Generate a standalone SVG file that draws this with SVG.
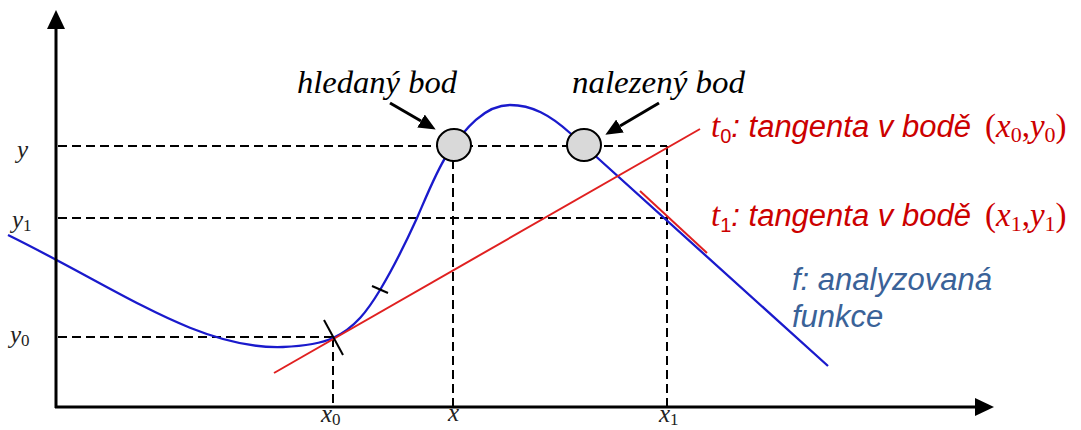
<svg xmlns="http://www.w3.org/2000/svg" width="1081" height="430" viewBox="0 0 1081 430">
<style>
.axis{stroke:#000;stroke-width:3;fill:none}
.dash{stroke:#000;stroke-width:2;stroke-dasharray:9 5;fill:none}
.curve{stroke:#1a1acc;stroke-width:2.3;fill:none}
.tan{stroke:#e02020;stroke-width:2;fill:none}
.tick{stroke:#000;stroke-width:2;fill:none}
.ptr{stroke:#000;stroke-width:3;fill:none}
.pt{fill:#d9d9d9;stroke:#000;stroke-width:2}
.ax{font-family:"Liberation Serif",serif;font-style:italic;font-size:25px;fill:#222}
.axs{font-style:normal;font-size:17px}
.note{font-family:"Liberation Serif",serif;font-style:italic;font-size:31px;fill:#000}
.red{font-family:"Liberation Sans",Arial,sans-serif;font-style:italic;font-size:31px;fill:#cc0000}
.m{font-family:"Liberation Serif",serif;font-style:normal;font-size:33px}
.mi{font-family:"Liberation Serif",serif;font-style:italic;font-size:33px}
.sub{font-size:20px;font-style:normal}
.msub{font-family:"Liberation Serif",serif;font-style:normal;font-size:22px}
.blue{font-family:"Liberation Sans",Arial,sans-serif;font-style:italic;font-size:31px;fill:#3a6298}
</style>
<defs>
<marker id="axhead" markerUnits="userSpaceOnUse" viewBox="0 0 19 18" markerWidth="19" markerHeight="18" refX="0" refY="9" orient="auto">
<path d="M0,0 L19,9 L0,18 z" fill="#000"/>
</marker>
<marker id="ptrhead" markerUnits="userSpaceOnUse" viewBox="0 0 17 15" markerWidth="17" markerHeight="15" refX="0" refY="7.5" orient="auto">
<path d="M0,0 L17,7.5 L0,15 z" fill="#000"/>
</marker>
</defs>

<g id="guides">
<line class="dash" x1="58" y1="146" x2="667" y2="146"/>
<line class="dash" x1="58" y1="218" x2="667" y2="218"/>
<line class="dash" x1="58" y1="337" x2="333" y2="337"/>
<line class="dash" x1="333" y1="338" x2="333" y2="406"/>
<line class="dash" x1="453" y1="160" x2="453" y2="406"/>
<line class="dash" x1="667" y1="146" x2="667" y2="406"/>
</g>

<g id="function-f">
<path class="curve" d="M8,235 C120,290 200,350 283,347 C305,346 320,344 333,338 C355,328 368,310 380,290 C395,265 407,240 417,218 C427,195 437,170 447,155 C465,128 485,105 510,105 C532,105 550,115 570,133 L828,366"/>
</g>

<g id="tangent-t0">
<line class="tan" x1="274" y1="373" x2="700" y2="129"/>
</g>
<g id="tangent-t1">
<line class="tan" x1="640" y1="191" x2="707" y2="253"/>
</g>

<g id="ticks">
<line class="tick" x1="324" y1="320" x2="343" y2="355"/>
<line class="tick" x1="372" y1="286" x2="388" y2="293"/>
</g>

<g id="point-hledany">
<ellipse class="pt" cx="454" cy="145" rx="17" ry="16"/>
</g>
<g id="point-nalezeny">
<ellipse class="pt" cx="584" cy="145" rx="17" ry="16"/>
</g>

<g id="connectors">
<line class="axis" x1="56" y1="408" x2="56" y2="29" marker-end="url(#axhead)"/>
<line class="axis" x1="55" y1="407" x2="975" y2="407" marker-end="url(#axhead)"/>
<line class="ptr" x1="390" y1="103" x2="421" y2="121" marker-end="url(#ptrhead)"/>
<line class="ptr" x1="659" y1="103" x2="620" y2="126" marker-end="url(#ptrhead)"/>
</g>

<g id="axis-labels">
<text class="ax" x="17" y="158">y</text>
<text class="ax" x="12" y="228">y<tspan class="axs" dy="3">1</tspan></text>
<text class="ax" x="10" y="343">y<tspan class="axs" dy="3">0</tspan></text>
<text class="ax" x="321" y="422">x<tspan class="axs" dy="3">0</tspan></text>
<text class="ax" x="448" y="421">x</text>
<text class="ax" x="659" y="422">x<tspan class="axs" dy="3">1</tspan></text>
</g>

<g id="label-hledany">
<text class="note" x="297" y="93" textLength="160" lengthAdjust="spacingAndGlyphs">hledaný bod</text>
</g>
<g id="label-nalezeny">
<text class="note" x="572" y="93" textLength="173" lengthAdjust="spacingAndGlyphs">nalezený bod</text>
</g>

<g id="label-t0">
<text class="red" x="711" y="137"><tspan class="mi">t</tspan><tspan class="sub" dy="6">0</tspan><tspan dy="-6">: tangenta v bodě</tspan><tspan class="m" x="985">(</tspan><tspan class="mi">x</tspan><tspan class="msub" dy="5">0</tspan><tspan class="m" dy="-5">,</tspan><tspan class="mi">y</tspan><tspan class="msub" dy="5">0</tspan><tspan class="m" dy="-5">)</tspan></text>
</g>
<g id="label-t1">
<text class="red" x="711" y="226"><tspan class="mi">t</tspan><tspan class="sub" dy="6">1</tspan><tspan dy="-6">: tangenta v bodě</tspan><tspan class="m" x="985">(</tspan><tspan class="mi">x</tspan><tspan class="msub" dy="5">1</tspan><tspan class="m" dy="-5">,</tspan><tspan class="mi">y</tspan><tspan class="msub" dy="5">1</tspan><tspan class="m" dy="-5">)</tspan></text>
</g>

<g id="label-f">
<text class="blue" x="792" y="290">f: analyzovaná</text>
<text class="blue" x="792" y="327">funkce</text>
</g>
</svg>
